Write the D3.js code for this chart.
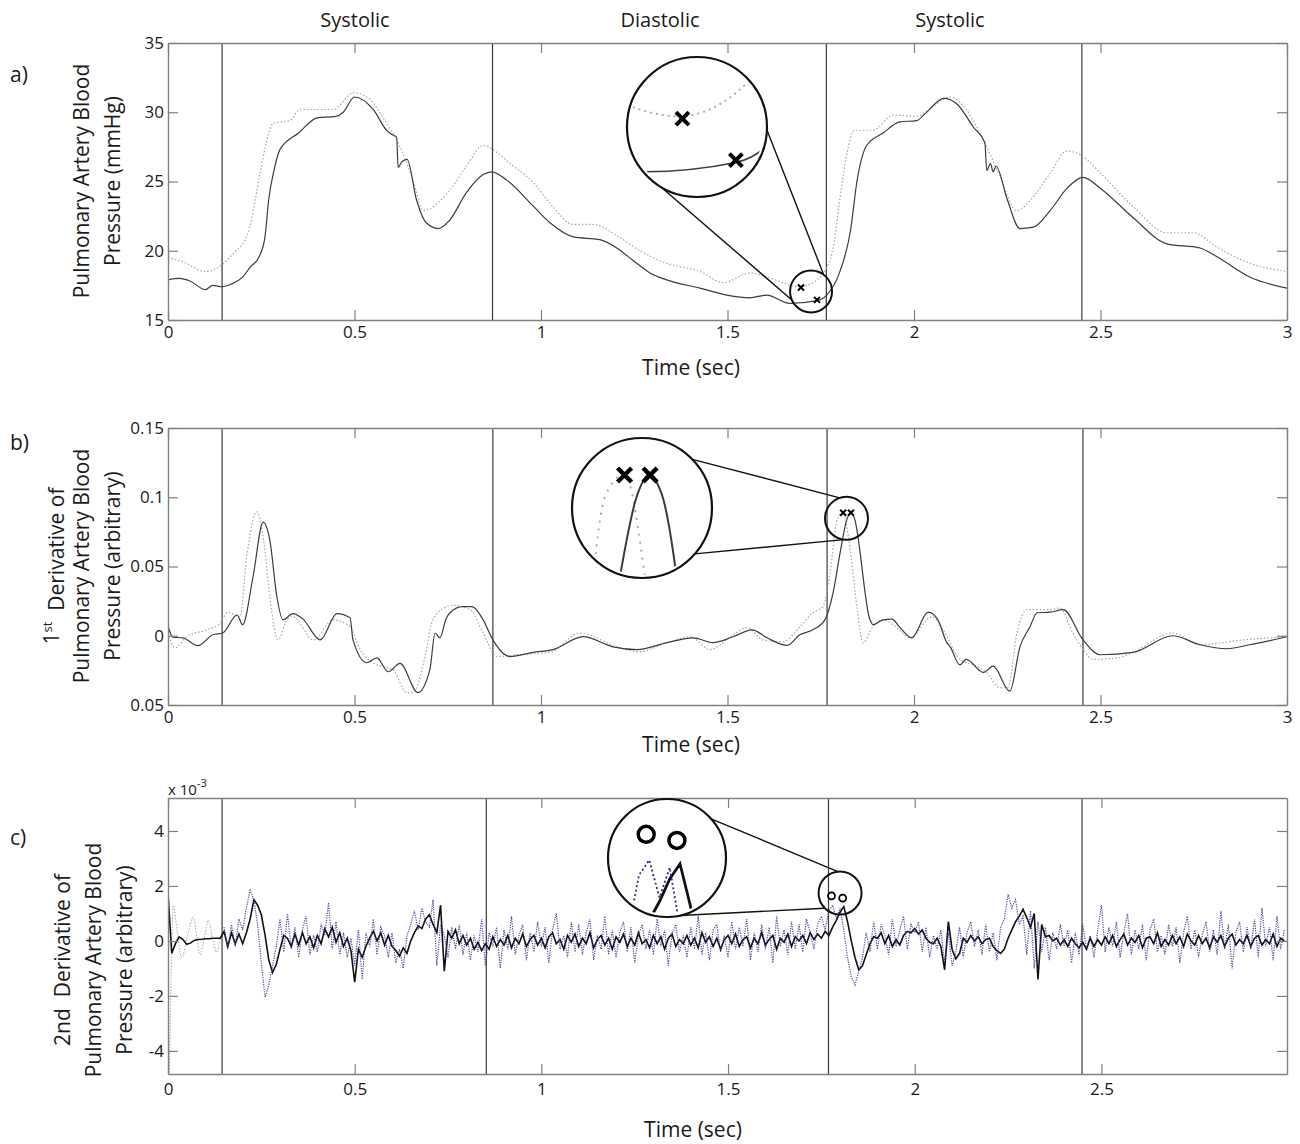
<!DOCTYPE html>
<html>
<head>
<meta charset="utf-8">
<script src="https://cdn.jsdelivr.net/npm/d3@7"></script>
<style>
body{margin:0;background:#fff;}
svg text{font-family:"Open Sans",sans-serif;fill:#1a1a1a;}
</style>
</head>
<body>
<div id="chart"></div>
<script>
// ---- panel a: pressure (mmHg) ----
var aSolidT=[0,0.03,0.06,0.10,0.12,0.145,0.17,0.20,0.22,0.245,0.26,0.27,0.285,0.30,0.35,0.40,0.45,0.47,0.50,0.55,0.586,0.60,0.613,0.617,0.626,0.641,0.666,0.693,0.725,0.755,0.80,0.845,0.868,0.908,0.98,1.025,1.087,1.158,1.203,1.247,1.292,1.337,1.426,1.498,1.56,1.605,1.667,1.74,1.766,1.80,1.83,1.847,1.873,1.917,1.962,2.007,2.03,2.08,2.115,2.16,2.19,2.195,2.205,2.212,2.22,2.25,2.284,2.32,2.365,2.41,2.453,2.50,2.587,2.678,2.767,2.81,2.90,3.00];
var aSolid=[17.9,18.0,17.8,17.2,17.5,17.4,17.6,18.1,18.8,19.6,21.0,23.7,25.9,27.3,28.5,29.6,29.7,30.0,31.1,30.2,28.7,28.4,28.2,26.0,26.4,26.6,23.7,22.0,21.6,22.2,24.2,25.5,25.7,25.1,23.2,22.0,21.0,20.8,20.2,19.3,18.4,17.9,17.3,16.8,16.6,16.8,16.2,16.4,16.8,18.4,21.5,25.0,27.6,28.5,29.3,29.4,29.9,31.0,30.6,28.9,27.8,25.8,26.3,25.7,26.1,23.7,21.6,21.7,22.9,24.5,25.3,24.5,22.4,20.5,20.2,19.6,18.1,17.3];
var aDotT=[0,0.04,0.10,0.145,0.175,0.215,0.247,0.265,0.282,0.327,0.354,0.443,0.497,0.533,0.586,0.622,0.657,0.684,0.756,0.80,0.845,0.871,0.917,0.98,1.025,1.087,1.14,1.203,1.265,1.337,1.426,1.49,1.56,1.605,1.694,1.748,1.784,1.80,1.82,1.84,1.89,1.945,2.007,2.04,2.096,2.14,2.186,2.23,2.275,2.32,2.365,2.41,2.453,2.50,2.587,2.678,2.75,2.81,2.90,3.00];
var aDot=[19.5,19.2,18.5,19.0,19.8,21.3,25.6,28.0,29.2,29.4,30.2,30.2,31.4,31.1,29.2,27.5,25.1,22.9,24.4,26.1,27.6,27.3,26.3,24.9,23.4,21.9,21.9,21.1,20.0,19.1,18.5,17.7,18.4,18.1,17.4,18.1,20.3,23.5,27.0,28.7,28.7,29.8,29.7,30.2,31.1,30.2,28.0,25.4,22.9,23.9,25.6,27.2,26.8,25.6,23.2,21.3,21.3,20.3,19.1,18.5];
var aPhases=[0.145,0.87,1.765,2.45];
var aMarkT=[1.697,1.74];
var aMarkV=[17.35,16.45];
var aYTicks=[15,20,25,30,35];

// ---- panel b: 1st derivative ----
var bSolidT=[0,0.013,0.04,0.08,0.12,0.147,0.185,0.20,0.228,0.255,0.273,0.292,0.308,0.335,0.362,0.408,0.453,0.488,0.496,0.533,0.56,0.59,0.622,0.67,0.702,0.716,0.729,0.745,0.756,0.79,0.815,0.845,0.871,0.917,0.979,1.032,1.113,1.193,1.257,1.338,1.408,1.461,1.515,1.566,1.606,1.66,1.694,1.729,1.761,1.783,1.802,1.82,1.831,1.84,1.882,1.89,1.917,1.941,1.962,1.994,2.038,2.064,2.088,2.097,2.123,2.14,2.186,2.212,2.257,2.284,2.311,2.33,2.365,2.40,2.453,2.50,2.587,2.694,2.767,2.84,2.90,3.00];
var bSolid=[0.0072,-0.001,-0.0015,-0.0072,0.0007,0.002,0.015,0.008,0.0426,0.082,0.069,0.028,0.0115,0.016,0.012,-0.003,0.016,0.013,-0.003,-0.0195,-0.016,-0.026,-0.020,-0.041,-0.0245,0.002,-0.0015,0.012,0.0166,0.021,0.021,0.0115,-0.003,-0.015,-0.012,-0.010,-0.0007,-0.008,-0.010,-0.005,-0.0015,-0.005,-0.0007,0.0043,-0.0015,-0.007,0.0007,0.0043,0.0115,0.031,0.06,0.084,0.089,0.085,0.0115,0.008,0.0115,0.012,0.006,-0.0015,0.017,0.0115,-0.005,-0.008,-0.021,-0.017,-0.0265,-0.022,-0.040,-0.008,0.0065,0.0166,0.017,0.0188,-0.003,-0.0137,-0.012,0.0,-0.0065,-0.0094,-0.0065,-0.0007];
var bDotT=[0,0.019,0.05,0.104,0.14,0.16,0.193,0.211,0.238,0.255,0.273,0.295,0.319,0.335,0.39,0.443,0.488,0.515,0.55,0.603,0.64,0.657,0.689,0.71,0.748,0.764,0.81,0.845,0.882,0.935,1.024,1.105,1.203,1.265,1.338,1.40,1.453,1.515,1.552,1.595,1.649,1.694,1.729,1.756,1.775,1.794,1.81,1.828,1.847,1.863,1.89,1.917,1.944,1.99,2.048,2.078,2.123,2.169,2.195,2.23,2.252,2.276,2.303,2.365,2.391,2.426,2.453,2.48,2.544,2.587,2.694,2.767,2.882,3.00];
var bDot=[0.002,-0.0087,-0.0007,0.0043,0.009,0.017,0.0137,0.057,0.0895,0.0715,0.028,-0.003,0.0115,0.0137,-0.003,0.0115,0.0065,-0.010,-0.0195,-0.0245,-0.041,-0.041,-0.015,0.0115,0.021,0.022,0.0188,0.002,-0.015,-0.0137,-0.012,0.002,-0.008,-0.0115,-0.005,-0.0007,-0.010,0.0007,0.0058,-0.003,-0.0043,0.0065,0.0166,0.021,0.0455,0.084,0.089,0.064,0.021,-0.005,0.0065,0.0115,0.008,-0.0015,0.0137,0.0043,-0.017,-0.022,-0.0267,-0.0375,-0.037,0.002,0.0188,0.0188,0.020,0.002,-0.010,-0.017,-0.016,-0.012,0.002,-0.0065,-0.003,-0.0007];
var bPhases=[0.145,0.871,1.767,2.453];
var bMarkT=[1.81,1.831];
var bMarkV=[0.0888,0.0888];
var bYTicks=[-0.05,0,0.05,0.1,0.15];
var bYLabels=["0.05","0","0.05","0.1","0.15"];

// ---- panel c: 2nd derivative (x 10^-3), sampled every 0.01 s ----
var cStep=0.01;
var cSolid=[
1.75,-0.45,-0.1,0.15,0.05,-0.12,-0.08,0.02,0.05,0.06,
0.08,0.08,0.1,0.1,0.1,0.35,-0.2,0.3,-0.1,0.25,
-0.1,0.3,0.8,1.5,1.3,0.95,0.2,-0.7,-1.15,-0.85,
-0.3,0.2,0.1,-0.2,0.25,-0.15,0.3,-0.1,0.15,-0.25,
0.2,-0.1,0.45,0.15,0.5,-0.05,0.3,-0.2,0.1,-0.35,
-1.5,-0.3,-0.6,-0.2,0.1,0.35,0.0,0.3,-0.15,0.2,
-0.2,-0.35,-0.55,-0.25,-0.45,0.0,0.3,0.55,0.45,0.8,
0.95,0.6,0.3,1.3,-1.1,0.35,0.1,0.4,-0.1,0.2,
-0.15,0.1,-0.3,-0.05,-0.35,-0.1,-0.3,0.15,-0.2,0.05,
-0.15,0.2,-0.25,0.1,-0.1,0.25,-0.2,0.05,0.2,-0.15,
0.1,-0.25,0.15,0.3,-0.1,0.05,-0.3,0.2,-0.05,0.25,
-0.2,0.1,-0.1,0.3,-0.25,0.05,0.2,-0.15,0.1,-0.3,
0.15,-0.05,0.25,-0.2,0.1,-0.15,0.3,-0.1,0.05,-0.25,
0.2,-0.1,0.15,-0.3,0.1,0.25,-0.2,0.05,-0.1,0.2,
-0.15,0.1,-0.25,0.3,-0.05,0.15,-0.2,0.1,-0.3,0.05,
0.2,-0.1,0.25,-0.2,0.05,0.15,-0.25,0.1,-0.1,0.3,
-0.15,0.05,0.2,-0.3,0.1,-0.05,0.25,-0.2,0.15,0.0,
0.2,-0.1,0.3,0.05,0.25,0.1,0.35,0.2,0.5,0.75,
1.05,1.25,0.7,0.0,-0.6,-1.05,-0.9,-0.5,-0.1,0.15,
0.1,0.3,-0.1,0.2,-0.2,0.05,-0.15,0.2,0.35,0.3,
0.45,0.25,0.4,0.1,-0.05,-0.1,0.1,-0.2,-1.05,0.7,
-0.3,-0.65,-0.45,0.1,-0.05,0.2,0.0,0.15,-0.1,0.05,
0.1,-0.2,-0.35,-0.45,-0.3,0.1,0.4,0.7,0.9,1.15,
0.85,0.5,1.0,-1.4,0.6,0.15,0.2,0.0,0.1,-0.15,
0.05,-0.2,0.1,-0.1,-0.25,-0.05,-0.3,0.1,-0.2,0.05,
-0.15,0.15,-0.1,0.2,-0.2,0.05,0.25,-0.15,0.1,-0.05,
0.2,-0.25,0.1,0.15,-0.1,0.3,-0.2,0.05,-0.15,0.2,
-0.1,0.15,-0.2,0.25,0.0,-0.15,0.2,-0.1,0.1,-0.25,
0.15,-0.05,0.2,-0.2,0.1,0.25,-0.15,0.05,-0.1,0.2,
-0.2,0.1,0.2,-0.15,0.05,-0.1,0.25,-0.2,0.1,0.0];
var cDotStart=0.15;
var cDot=[
0.5,-0.3,0.6,-0.2,0.8,
0.4,1.2,1.85,1.5,0.6,-0.8,-2.05,-1.6,-0.9,-0.2,
0.8,-0.4,1.0,-0.3,0.5,-0.6,0.4,0.9,-0.5,0.2,
-0.4,0.6,0.2,1.4,-0.3,0.7,-0.5,0.3,-0.6,0.1,
-0.9,0.4,-1.4,0.3,-0.2,0.8,-0.5,0.5,0.2,-0.6,
0.3,-0.8,-0.3,-1.0,0.2,0.6,1.1,0.4,1.2,0.7,
0.5,1.5,-0.9,0.6,0.2,-0.6,0.5,-0.3,0.6,-0.5,
0.3,-0.7,0.2,-0.4,0.8,-0.9,0.3,-0.2,0.5,-1.0,
0.4,-0.3,0.9,-0.5,0.2,0.6,-0.7,0.3,-0.4,0.7,
-0.2,0.5,-0.8,0.4,1.0,-0.3,0.2,-0.6,0.7,-0.4,
0.6,-0.5,0.3,0.8,-0.7,0.2,-0.3,0.9,-0.5,0.4,
-0.6,0.3,0.7,-0.4,0.5,-0.8,0.2,0.6,-0.3,0.4,
-0.5,0.8,-0.2,0.4,-0.9,0.3,0.6,-0.4,0.2,-0.6,
0.5,-0.3,0.9,-0.5,0.3,-0.7,0.4,0.6,-0.4,0.2,
-0.6,0.7,-0.3,0.5,-0.2,0.8,-0.7,0.3,-0.4,0.6,
-0.3,0.5,-0.8,0.9,-0.2,0.4,-0.5,0.7,-0.3,0.6,
-0.4,0.8,0.3,-0.3,0.6,0.9,0.4,1.1,1.3,0.8,
1.2,0.4,-0.6,-1.3,-1.6,-1.1,-0.6,0.3,-0.4,0.7,
-0.3,0.6,0.2,-0.5,0.8,-0.2,0.4,0.9,-0.3,0.6,
0.3,0.7,-0.4,0.5,-0.6,0.2,-0.3,0.4,-0.8,0.3,
-0.9,-0.4,0.5,-0.6,0.3,0.7,-0.2,0.4,-0.5,0.6,
-0.4,0.3,-0.7,0.5,0.8,1.7,1.2,1.5,0.6,0.9,
-0.5,1.1,-1.0,0.7,-0.4,0.5,-0.7,0.3,-0.3,0.6,
-0.2,0.4,-0.8,0.3,-0.5,0.6,-0.3,0.2,-0.6,0.4,
1.3,-0.4,0.5,-0.2,0.7,-0.6,0.3,1.0,-0.5,0.4,
-0.3,0.6,-0.7,0.4,0.8,-0.4,0.2,-0.5,0.6,-0.2,
0.5,-0.8,0.3,0.9,-0.3,0.4,-0.6,0.2,0.7,-0.4,
0.4,-0.5,1.1,-0.3,0.6,-1.0,0.3,0.7,-0.4,0.5,
-0.3,0.8,-0.6,1.2,-0.2,0.5,-0.7,0.9,-0.3,0.4];
// faint start-up transient of the dotted trace
var cGrayT=[0,0.003,0.008,0.014,0.025,0.037,0.052,0.068,0.077,0.086,0.097,0.108,0.119,0.13,0.14];
var cGray=[1.4,-4.85,-1.5,1.3,0.3,-0.6,0.2,0.85,0.2,-0.5,0.1,0.75,0.1,-0.4,0.1];
var cPhases=[0.1448,0.8525,1.769,2.448];
var cMarkT=[1.777,1.807];
var cMarkV=[1.64,1.56];
var cYTicks=[-4,-2,0,2,4];

var xTicks=[0,0.5,1,1.5,2,2.5,3];

var W=1300,H=1144;
var left=168,right=1287;
var svg=d3.select("#chart").append("svg").attr("width",W).attr("height",H);
var frameCol="#808080";

function mark(g,px,py,type,size,sw){
	if(type=="x"){
		g.append("path")
			.attr("d","M"+(px-size)+","+(py-size)+"L"+(px+size)+","+(py+size)+"M"+(px-size)+","+(py+size)+"L"+(px+size)+","+(py-size))
			.attr("stroke","#000").attr("stroke-width",sw).attr("fill","none");
	}else{
		g.append("circle").attr("cx",px).attr("cy",py).attr("r",size)
			.attr("fill","none").attr("stroke","#000").attr("stroke-width",sw);
	}
}

function drawPanel(p){
	var x=d3.scaleLinear().domain(p.xDomain).range([left,right]);
	var y=d3.scaleLinear().domain(p.yDomain).range([p.bottom,p.top]);
	var g=svg.append("g").attr("class","panel-"+p.name);

	svg.append("clipPath").attr("id","clip-"+p.name).append("rect")
		.attr("x",left).attr("y",p.top).attr("width",right-left).attr("height",p.bottom-p.top);

	// phase boundaries
	g.selectAll("line.phase").data(p.phases).enter().append("line")
		.attr("class","phase")
		.attr("x1",function(d){return x(d);}).attr("x2",function(d){return x(d);})
		.attr("y1",p.top).attr("y2",p.bottom)
		.attr("stroke","#3a3a3a").attr("stroke-width",1.2);

	var plot=g.append("g").attr("clip-path","url(#clip-"+p.name+")");
	p.series.forEach(function(s){
		var line=d3.line().curve(s.curve)
			.x(function(d){return x(d[0]);})
			.y(function(d){return y(d[1]);});
		plot.append("path").datum(d3.zip(s.t,s.v))
			.attr("d",line).attr("fill","none")
			.attr("stroke",s.color).attr("stroke-width",s.width)
			.attr("stroke-dasharray",s.dash||null)
			.attr("opacity",s.opacity||1);
	});

	// axes, ticks inward on all four sides
	var xa=d3.axisBottom(x).tickValues(p.xTicks).tickSizeInner(-10).tickSizeOuter(0)
		.tickPadding(p.xPad).tickFormat(function(d){return d+"";});
	var ya=d3.axisLeft(y).tickValues(p.yTicks).tickSizeInner(-10).tickSizeOuter(0)
		.tickPadding(4).tickFormat(function(d,i){return p.yLabels?p.yLabels[i]:d+"";});
	var xt=d3.axisTop(x).tickValues(p.xTicks).tickSizeInner(-10).tickSizeOuter(0).tickFormat("");
	var yr=d3.axisRight(y).tickValues(p.yTicks).tickSizeInner(-10).tickSizeOuter(0).tickFormat("");
	var axes=[
		g.append("g").attr("transform","translate(0,"+p.bottom+")").call(xa),
		g.append("g").attr("transform","translate("+left+",0)").call(ya),
		g.append("g").attr("transform","translate(0,"+p.top+")").call(xt),
		g.append("g").attr("transform","translate("+right+",0)").call(yr)
	];
	axes.forEach(function(a){
		a.select(".domain").attr("stroke",frameCol).attr("stroke-width",1.4);
		a.selectAll(".tick line").attr("stroke",frameCol).attr("stroke-width",1.2);
		a.selectAll(".tick text").attr("font-size",17).attr("font-family","Open Sans").attr("fill","#1a1a1a");
	});

	// magnifier: focus point (fx,fy) in the small circle is enlarged into the big one
	var m=p.mag;
	var sx=x(m.t),sy=y(m.v),k=m.R/m.r;
	var fx=sx+m.focus[0],fy=sy+m.focus[1];
	function tx(px){return m.cx+k*(px-fx);}
	function ty(py){return m.cy+k*(py-fy);}
	var mg=g.append("g");
	m.links.forEach(function(a){
		var a1=a[0]*Math.PI/180,a2=a[1]*Math.PI/180;
		mg.append("line")
			.attr("x1",m.cx+m.R*Math.cos(a1)).attr("y1",m.cy+m.R*Math.sin(a1))
			.attr("x2",sx+m.r*Math.cos(a2)).attr("y2",sy+m.r*Math.sin(a2))
			.attr("stroke","#111").attr("stroke-width",1.4);
	});
	mg.append("circle").attr("cx",m.cx).attr("cy",m.cy).attr("r",m.R).attr("fill","#fff");
	svg.append("clipPath").attr("id","mag-"+p.name).append("circle")
		.attr("cx",m.cx).attr("cy",m.cy).attr("r",m.R-3);
	var inner=mg.append("g").attr("clip-path","url(#mag-"+p.name+")");
	p.series.forEach(function(s){
		var line=d3.line().curve(s.curve)
			.x(function(d){return tx(x(d[0]));})
			.y(function(d){return ty(y(d[1]));});
		inner.append("path").datum(d3.zip(s.t,s.v))
			.attr("d",line).attr("fill","none")
			.attr("stroke",s.color).attr("stroke-width",s.magWidth)
			.attr("stroke-dasharray",s.magDash||null);
	});
	p.markT.forEach(function(t,i){
		mark(inner,tx(x(t)),ty(y(p.markV[i])),m.type,m.bigSize,m.bigStroke);
		mark(mg,x(t),y(p.markV[i]),m.type,m.smallSize,m.smallStroke);
	});
	mg.append("circle").attr("cx",m.cx).attr("cy",m.cy).attr("r",m.R)
		.attr("fill","none").attr("stroke","#111").attr("stroke-width",2.2);
	mg.append("circle").attr("cx",sx).attr("cy",sy).attr("r",m.r)
		.attr("fill","none").attr("stroke","#111").attr("stroke-width",2);

	// texts
	svg.append("text").attr("x",10).attr("y",p.letterY).attr("dy","0.35em")
		.attr("font-size",21).text(p.letter);
	svg.append("text").attr("x",p.timeX).attr("y",p.timeY).attr("dy","0.35em")
		.attr("text-anchor","middle").attr("font-size",21).text("Time (sec)");
	p.ylab.forEach(function(l){
		var t=svg.append("text")
			.attr("transform","translate("+l.x+","+p.ylabY+") rotate(-90)")
			.attr("dy","0.35em").attr("text-anchor","middle").attr("font-size",21);
		if(l.sup){
			t.append("tspan").text(l.pre);
			t.append("tspan").attr("font-size",13).attr("dy","-0.6em").text(l.sup);
			t.append("tspan").attr("dy","0.6em").text(l.text);
		}else{
			t.text(l.text);
		}
	});
	return {x:x,y:y};
}

var grayDot="#a6a6a6";

drawPanel({
	name:"a",top:43,bottom:320,xDomain:[0,3],yDomain:[15,35],
	xTicks:xTicks,yTicks:aYTicks,xPad:6,phases:aPhases,
	series:[
		{t:aDotT,v:aDot,curve:d3.curveMonotoneX,color:grayDot,width:1.2,dash:"1.5,2",magWidth:1.8,magDash:"2,4"},
		{t:aSolidT,v:aSolid,curve:d3.curveMonotoneX,color:"#3c3c3c",width:1.2,magWidth:1.6}
	],
	markT:aMarkT,markV:aMarkV,
	mag:{t:1.724,v:17.06,r:21,cx:697,cy:127,R:70,focus:[-5.7,-1.5],links:[[121,156],[2.5,-53]],
		type:"x",smallSize:3,smallStroke:2,bigSize:6.5,bigStroke:4},
	letter:"a)",letterY:75,timeX:691,timeY:368,ylabY:181,
	ylab:[{x:82,text:"Pulmonary Artery Blood"},{x:113,text:"Pressure (mmHg)"}]
});

drawPanel({
	name:"b",top:428,bottom:705,xDomain:[0,3],yDomain:[-0.05,0.15],
	xTicks:xTicks,yTicks:bYTicks,yLabels:bYLabels,xPad:6,phases:bPhases,
	series:[
		{t:bDotT,v:bDot,curve:d3.curveMonotoneX,color:grayDot,width:1.2,dash:"1.5,2",magWidth:1.8,magDash:"2,6"},
		{t:bSolidT,v:bSolid,curve:d3.curveMonotoneX,color:"#3c3c3c",width:1.2,magWidth:2}
	],
	markT:bMarkT,markV:bMarkV,
	mag:{t:1.819,v:0.0848,r:21.5,cx:642,cy:508,R:70,focus:[2,4.6],links:[[-44,-108],[41,98]],
		type:"x",smallSize:3,smallStroke:2,bigSize:7,bigStroke:4.5},
	letter:"b)",letterY:443,timeX:691,timeY:745,ylabY:566,
	ylab:[{x:52,pre:"1",sup:"st",text:"\u00a0 Derivative of"},{x:82,text:"Pulmonary Artery Blood"},{x:113,text:"Pressure (arbitrary)"}]
});

var cT=d3.range(cSolid.length).map(function(i){return i*cStep;});
var cDotT=d3.range(cDot.length).map(function(i){return cDotStart+i*cStep;});
drawPanel({
	name:"c",top:798,bottom:1074,xDomain:[0,2.997],yDomain:[-4.84,5.2],
	xTicks:xTicks.slice(0,6),yTicks:cYTicks,xPad:9,phases:cPhases,
	series:[
		{t:cGrayT,v:cGray,curve:d3.curveMonotoneX,color:"#b0b0b0",width:1.1,dash:"1.5,1.5",magWidth:1.5,magDash:"2,3"},
		{t:cT,v:cSolid,curve:d3.curveLinear,color:"#111",width:1.6,magWidth:2.8},
		{t:cDotT,v:cDot,curve:d3.curveLinear,color:"#2a2a9c",width:1.2,dash:"1.2,1.2",opacity:0.85,magWidth:1.8,magDash:"2,2.5"}
	],
	markT:cMarkT,markV:cMarkV,
	mag:{t:1.80,v:1.745,r:21.5,cx:667,cy:858,R:59,focus:[-1,11.5],links:[[-41.6,-96],[77,135]],
		type:"o",smallSize:3.5,smallStroke:1.8,bigSize:8,bigStroke:3.5},
	letter:"c)",letterY:838,timeX:693,timeY:1130,ylabY:960,
	ylab:[{x:63,text:"2nd\u00a0 Derivative of"},{x:94,text:"Pulmonary Artery Blood"},{x:125,text:"Pressure (arbitrary)"}]
});

// exponent label of panel c
var ex=svg.append("text").attr("x",168).attr("y",795).attr("font-size",15);
ex.append("tspan").text("x 10");
ex.append("tspan").attr("font-size",11).attr("dy","-0.7em").text("-3");

// phase titles
var phaseTitles=["Systolic","Diastolic","Systolic"];
var phaseTitleX=[355,660,950];
svg.selectAll("text.phase-title").data(phaseTitles).enter().append("text")
	.attr("class","phase-title")
	.attr("x",function(d,i){return phaseTitleX[i];}).attr("y",20).attr("dy","0.35em")
	.attr("text-anchor","middle").attr("font-size",20)
	.text(function(d){return d;});
</script>
</body>
</html>
